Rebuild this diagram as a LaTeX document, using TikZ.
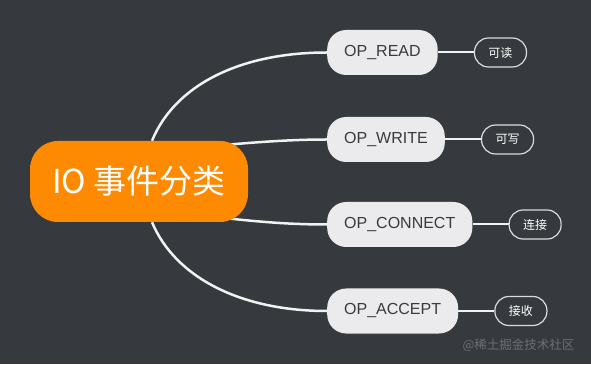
\documentclass[tikz,border=0pt]{standalone}
\usepackage{fontspec}
\setmainfont{Liberation Sans}
\newfontfamily\cjk{Noto Sans CJK SC}
\usepackage{tikz}
\usetikzlibrary{positioning}
\definecolor{bgcol}{HTML}{36393D}
\definecolor{rootcol}{HTML}{FD8A00}
\definecolor{opfill}{HTML}{EBEBED}
\definecolor{optext}{HTML}{3A3A3C}
\definecolor{wirecol}{HTML}{F2F2F2}
\definecolor{markcol}{HTML}{6C6F74}
\pgfdeclarelayer{bg}
\pgfdeclarelayer{edges}
\pgfsetlayers{bg,edges,main}

\begin{document}
\begin{tikzpicture}[x=1pt,y=1pt,
  rootbox/.style={fill=rootcol,text=white,rounded corners=28pt,minimum width=218pt,minimum height=81pt,inner sep=0pt,font=\cjk\fontsize{33}{33}\selectfont},
  opbox/.style={fill=opfill,text=optext,rounded corners=19pt,minimum height=45pt,inner xsep=17pt,inner ysep=0pt,font=\fontsize{16}{16}\selectfont},
  notebox/.style={draw=opfill!85!gray,line width=1.2pt,text=white,rounded corners=14pt,minimum width=52pt,minimum height=29pt,inner sep=0pt,font=\cjk\fontsize{12}{12}\selectfont},
  branch/.style={draw=wirecol,line width=2.5pt},
  twig/.style={draw=wirecol,line width=2pt}]
\begin{pgfonlayer}{bg}
\fill[bgcol] (0,0) rectangle (591,364);
\end{pgfonlayer}
\useasboundingbox (0,0) rectangle (591,364);

\node[rootbox] (io) at (139,182.5) {IO 事件分类};

\foreach \nm/\lbl/\yy/\note in {read/OP\_READ/311.5/可读,write/OP\_WRITE/224.5/可写,conn/OP\_CONNECT/139.5/连接,acc/OP\_ACCEPT/53/接收}{
  \node[opbox,anchor=west] (\nm) at (327,\yy) {\lbl};
  \node[notebox,right=36pt of \nm] (\nm-n) {\note};
  \draw[twig] (\nm) -- (\nm-n);
}

% curved branches from the root
\begin{pgfonlayer}{edges}
\draw[branch] ([xshift=13pt]io.north) .. controls (175,279) and (240,311.5) .. (read.west);
\draw[branch] ([xshift=-22pt,yshift=-4pt]io.north east) .. controls (265,222.5) and (295,224.5) .. (write.west);
\draw[branch] ([xshift=13pt]io.south) .. controls (175,87) and (240,53) .. (acc.west);
\draw[branch] ([xshift=-22pt,yshift=4pt]io.south east) .. controls (265,141.5) and (295,139.5) .. (conn.west);
\end{pgfonlayer}

\node[anchor=east,text=markcol,font=\cjk\fontsize{12.5}{12.5}\selectfont] (mark) at (578,19) {@稀土掘金技术社区};
\end{tikzpicture}
\end{document}
